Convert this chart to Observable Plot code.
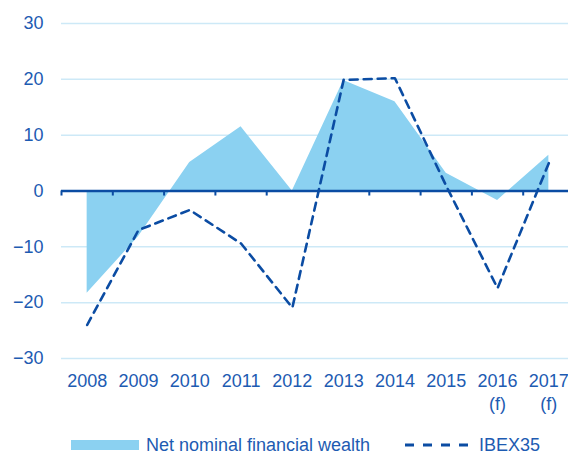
<!DOCTYPE html>
<html>
<head>
<meta charset="utf-8">
<script src="https://cdn.jsdelivr.net/npm/d3@7"></script>
<script src="https://cdn.jsdelivr.net/npm/@observablehq/plot@0.6"></script>
<style>
  html, body { margin: 0; padding: 0; background: #fff; overflow: hidden; }
  body { width: 568px; height: 454px; position: relative; font-family: "Liberation Sans", Arial, sans-serif; }
  #chart { position: absolute; left: 0; top: 0; width: 568px; height: 430px; overflow: hidden; }
  .legend { position: absolute; top: 436px; left: 0; width: 568px; height: 18px; font-size: 18px; line-height: 18px; color: #1d5bb2; }
  .legend .item { position: absolute; top: 0; height: 18px; display: flex; align-items: center; white-space: nowrap; }
  .legend .sw { width: 68px; height: 10px; background: #8bd1f1; margin-right: 7px; }
  .legend svg { margin-right: 11px; }
</style>
</head>
<body>
<div id="chart"></div>
<div class="legend">
  <div class="item" style="left:71px"><div class="sw"></div><span>Net nominal financial wealth</span></div>
  <div class="item" style="left:405px"><svg width="63" height="10"><line x1="0" y1="5" x2="63" y2="5" stroke="#0b4ca3" stroke-width="3" stroke-dasharray="9,9"/></svg><span>IBEX35</span></div>
</div>
<script>
const years = [2008, 2009, 2010, 2011, 2012, 2013, 2014, 2015, 2016, 2017];
const yearLabels = ["2008", "2009", "2010", "2011", "2012", "2013", "2014", "2015", "2016\n(f)", "2017\n(f)"];
const wealth = [-18.3, -8.2, 5.1, 11.5, 0, 19.8, 16.0, 3.2, -1.7, 6.4];
const ibex = [-24.0, -7.0, -3.4, -9.4, -20.9, 19.9, 20.2, 0.9, -17.4, 5.0];
const yTicks = [-30, -20, -10, 0, 10, 20, 30];

const data = years.map((y, i) => ({year: y, wealth: wealth[i], ibex: ibex[i], label: yearLabels[i]}));
const boundaries = years.map(y => y - 0.5).concat([years[years.length - 1] + 0.5]);
const gridTicks = yTicks.filter(t => t !== 0);

const textColor = "#1d5bb2";
const darkBlue = "#0b4ca3";

const chart = Plot.plot({
  width: 574,
  height: 430,
  marginLeft: 61,
  marginRight: 0,
  marginTop: 23,
  marginBottom: 72,
  style: {fontFamily: "'Liberation Sans', Arial, sans-serif", fontSize: "18px", color: textColor, background: "transparent", maxWidth: "none"},
  x: {type: "linear", domain: [years[0] - 0.5, years[years.length - 1] + 0.5]},
  y: {domain: [-30, 30]},
  marks: [
    Plot.ruleY(gridTicks, {stroke: "#cde9f7", strokeWidth: 1.5}),
    Plot.areaY(data, {x: "year", y: "wealth", fill: "#8bd1f1"}),
    Plot.ruleY([0], {stroke: darkBlue, strokeWidth: 2.5}),
    Plot.ruleX(boundaries, {y1: 0, y2: -0.9, stroke: darkBlue, strokeWidth: 2}),
    Plot.lineY(data, {x: "year", y: "ibex", stroke: darkBlue, strokeWidth: 2.6, strokeDasharray: "8,6"}),
    Plot.axisY({ticks: yTicks, tickSize: 0, tickPadding: 18, label: null, fill: textColor}),
    Plot.axisX({ticks: years, tickSize: 0, tickPadding: 13, label: null, fill: textColor, lineHeight: 1.25,
      tickFormat: d => yearLabels[years.indexOf(d)]})
  ]
});
chart.style.display = "block";
chart.style.maxWidth = "none";
chart.style.width = "574px";
chart.style.height = "430px";
document.getElementById("chart").appendChild(chart);
</script>
</body>
</html>
